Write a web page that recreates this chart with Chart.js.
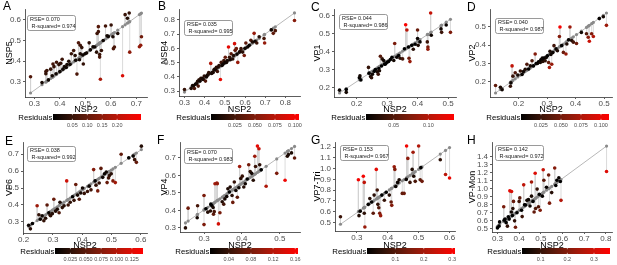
<!DOCTYPE html>
<html>
<head>
<meta charset="utf-8">
<script src="https://cdn.jsdelivr.net/npm/chart.js@4.4.1/dist/chart.umd.min.js"></script>
<style>
  body { margin: 0; background: #fff; width: 617px; height: 265px; overflow: hidden; position: relative;
         font-family: "Liberation Sans", Arial, sans-serif; }
  .panel { position: absolute; }
  .tag { position: absolute; font-size: 12px; line-height: 12px; color: #000; }
</style>
</head>
<body>
<script>
// ---- data (x = NSP2, y = other segment) ----
const nsp2A = [0.285,0.33,0.345,0.345,0.349,0.355,0.364,0.37,0.373,0.377,0.385,0.387,0.396,0.4,0.403,0.409,0.412,0.418,0.425,0.428,0.435,0.44,0.445,0.454,0.46,0.462,0.467,0.473,0.477,0.48,0.48,0.486,0.49,0.492,0.499,0.505,0.515,0.52,0.53,0.537,0.544,0.546,0.551,0.551,0.556,0.556,0.559,0.563,0.57,0.579,0.585,0.59,0.601,0.608,0.61,0.614,0.627,0.646,0.656,0.665,0.672,0.674,0.712,0.717,0.72];
const nsp5A = [0.325,0.297,0.35,0.34,0.355,0.31,0.362,0.33,0.387,0.374,0.34,0.395,0.384,0.35,0.39,0.41,0.362,0.374,0.37,0.384,0.4,0.385,0.436,0.452,0.428,0.405,0.338,0.489,0.407,0.477,0.436,0.466,0.43,0.387,0.436,0.44,0.489,0.455,0.47,0.469,0.444,0.534,0.567,0.543,0.42,0.433,0.313,0.452,0.5,0.57,0.523,0.52,0.575,0.518,0.461,0.469,0.534,0.33,0.625,0.608,0.633,0.444,0.47,0.477,0.518];

const nsp2B = [0.3,0.333,0.34,0.344,0.349,0.355,0.36,0.365,0.368,0.372,0.377,0.381,0.388,0.393,0.398,0.404,0.409,0.412,0.417,0.42,0.43,0.434,0.438,0.442,0.446,0.45,0.455,0.458,0.463,0.467,0.471,0.478,0.482,0.486,0.491,0.495,0.5,0.502,0.508,0.512,0.518,0.523,0.527,0.531,0.539,0.543,0.548,0.551,0.557,0.56,0.564,0.572,0.576,0.58,0.588,0.596,0.6,0.604,0.613,0.621,0.629,0.637,0.645,0.65,0.658,0.67,0.694,0.697,0.73,0.74,0.75,0.845];
const nsp4B = [0.312,0.319,0.34,0.336,0.319,0.35,0.352,0.37,0.336,0.38,0.371,0.39,0.39,0.383,0.407,0.371,0.4,0.41,0.419,0.43,0.495,0.424,0.43,0.431,0.45,0.455,0.45,0.467,0.438,0.47,0.479,0.382,0.502,0.48,0.49,0.514,0.5,0.538,0.502,0.515,0.61,0.538,0.52,0.562,0.526,0.55,0.633,0.586,0.598,0.56,0.502,0.574,0.58,0.598,0.574,0.55,0.6,0.638,0.61,0.621,0.657,0.645,0.705,0.65,0.638,0.681,0.669,0.638,0.729,0.705,0.724,0.795];

const nsp2C = [0.144,0.166,0.166,0.209,0.211,0.214,0.239,0.241,0.246,0.249,0.252,0.258,0.262,0.268,0.271,0.273,0.275,0.278,0.282,0.284,0.289,0.292,0.295,0.3,0.305,0.311,0.316,0.322,0.325,0.332,0.338,0.343,0.351,0.357,0.361,0.365,0.37,0.372,0.375,0.381,0.386,0.392,0.4,0.4,0.402,0.408,0.432,0.434,0.434,0.443,0.445,0.477,0.479,0.494,0.508];
const vp1C  = [0.186,0.189,0.174,0.255,0.265,0.242,0.312,0.28,0.261,0.255,0.274,0.29,0.3,0.287,0.274,0.306,0.293,0.374,0.32,0.359,0.35,0.33,0.331,0.34,0.345,0.355,0.368,0.35,0.444,0.368,0.378,0.363,0.359,0.415,0.548,0.519,0.425,0.363,0.344,0.434,0.412,0.44,0.519,0.472,0.434,0.453,0.453,0.425,0.412,0.613,0.49,0.525,0.506,0.547,0.506];

const nsp2D = [0.119,0.136,0.142,0.171,0.173,0.177,0.18,0.188,0.197,0.206,0.212,0.217,0.223,0.229,0.235,0.241,0.247,0.252,0.258,0.262,0.266,0.27,0.276,0.278,0.281,0.283,0.285,0.287,0.29,0.293,0.297,0.301,0.305,0.308,0.31,0.313,0.316,0.32,0.324,0.331,0.336,0.343,0.345,0.351,0.357,0.366,0.369,0.375,0.38,0.386,0.392,0.403,0.42,0.438,0.444,0.448,0.456,0.462,0.483,0.497,0.508];
const vp2D  = [0.18,0.17,0.157,0.176,0.194,0.287,0.231,0.25,0.237,0.259,0.24,0.256,0.269,0.296,0.27,0.287,0.315,0.287,0.352,0.3,0.3,0.31,0.306,0.32,0.319,0.33,0.311,0.324,0.33,0.315,0.333,0.343,0.306,0.278,0.367,0.35,0.296,0.36,0.398,0.38,0.37,0.448,0.5,0.398,0.361,0.352,0.407,0.43,0.5,0.426,0.417,0.41,0.47,0.463,0.444,0.422,0.463,0.448,0.546,0.556,0.509];

const nsp2E = [0.217,0.223,0.23,0.246,0.252,0.257,0.263,0.269,0.275,0.28,0.286,0.29,0.292,0.298,0.303,0.309,0.315,0.321,0.324,0.332,0.338,0.347,0.352,0.359,0.367,0.372,0.378,0.384,0.39,0.395,0.401,0.407,0.418,0.424,0.43,0.439,0.444,0.447,0.453,0.458,0.464,0.47,0.476,0.482,0.485,0.49,0.493,0.499,0.505,0.513,0.533,0.559,0.574,0.579,0.585,0.602];
const vp6E  = [0.279,0.258,0.29,0.395,0.342,0.315,0.336,0.306,0.321,0.399,0.353,0.34,0.336,0.348,0.433,0.363,0.374,0.353,0.416,0.384,0.395,0.542,0.399,0.416,0.448,0.427,0.521,0.458,0.433,0.47,0.5,0.468,0.479,0.511,0.489,0.609,0.542,0.517,0.483,0.53,0.616,0.563,0.584,0.595,0.532,0.56,0.574,0.584,0.542,0.532,0.7,0.679,0.689,0.668,0.652,0.748];

const nsp2F = [0.251,0.258,0.282,0.283,0.3,0.3,0.305,0.31,0.317,0.318,0.321,0.324,0.325,0.327,0.329,0.334,0.335,0.338,0.342,0.348,0.352,0.355,0.36,0.363,0.367,0.369,0.374,0.376,0.38,0.384,0.388,0.392,0.394,0.397,0.401,0.405,0.409,0.414,0.418,0.422,0.426,0.43,0.434,0.436,0.441,0.445,0.447,0.451,0.464,0.492,0.514,0.52,0.523,0.531,0.539];
const vp4F  = [0.3,0.413,0.358,0.427,0.485,0.319,0.41,0.39,0.397,0.436,0.427,0.417,0.378,0.393,0.553,0.557,0.553,0.323,0.387,0.45,0.436,0.466,0.48,0.524,0.505,0.534,0.485,0.446,0.563,0.514,0.475,0.53,0.651,0.583,0.596,0.534,0.553,0.58,0.661,0.622,0.612,0.573,0.71,0.651,0.768,0.753,0.661,0.632,0.538,0.612,0.573,0.71,0.72,0.729,0.7];

const nsp2G = [0.247,0.305,0.307,0.311,0.321,0.324,0.324,0.326,0.337,0.342,0.348,0.353,0.356,0.363,0.366,0.368,0.371,0.374,0.377,0.381,0.389,0.395,0.405,0.411,0.413,0.421,0.423,0.426,0.432,0.437,0.447,0.453,0.46,0.461,0.465,0.472,0.479,0.482,0.484,0.489,0.5,0.505,0.507,0.511,0.57,0.587,0.6];
const vp7G  = [0.553,0.897,0.563,0.604,0.929,0.872,0.585,0.458,0.668,0.722,0.69,0.585,0.754,0.993,0.802,0.668,0.636,0.585,0.563,0.754,0.706,0.78,0.754,0.69,0.659,1.018,0.993,0.834,0.872,0.897,0.77,0.77,0.9,1.21,1.095,0.872,0.993,1.152,0.929,0.882,1.21,0.897,1.009,0.882,1.082,0.945,0.913];

const nsp2H = [0.3,0.307,0.31,0.329,0.331,0.335,0.34,0.346,0.35,0.354,0.357,0.364,0.365,0.369,0.371,0.374,0.379,0.383,0.39,0.4,0.403,0.411,0.414,0.421,0.425,0.429,0.436,0.443,0.45,0.457,0.457,0.464,0.469,0.474,0.476,0.483,0.489,0.493,0.497,0.507,0.511,0.514,0.526,0.536,0.54,0.55,0.564,0.569,0.574,0.583,0.59,0.593,0.803];
const vpmH  = [0.51,0.532,0.585,0.774,0.607,0.62,0.576,0.532,0.65,0.62,0.973,0.708,0.965,0.664,0.752,0.841,0.598,0.519,0.7,0.841,0.885,0.73,0.651,1.048,0.8,0.796,0.854,0.863,0.783,1.083,0.907,0.841,0.708,1.193,0.752,0.995,0.774,0.929,0.73,0.907,1.237,1.105,1.017,1.171,0.819,0.951,1.259,1.039,1.105,1.136,1.09,0.854,1.215];

// fitted line [slope, intercept] as drawn in each panel
const fitA = [0.887, -0.006];
const fitB = [1.015, -0.01];
const fitC = [1.12, 0.009];
const fitD = [1.125, 0.005];
const fitE = [1.18, 0.017];
const fitF = [1.52, -0.053];
const fitG = [2.02, -0.016];
const fitH = [1.99, -0.066];

// axis ticks
const xTicksA = [0.3,0.4,0.5,0.6,0.7],     yTicksA = [0.3,0.4,0.5,0.6];
const xTicksB = [0.3,0.4,0.5,0.6,0.7,0.8], yTicksB = [0.3,0.4,0.5,0.6,0.7,0.8];
const xTicksC = [0.2,0.3,0.4,0.5],         yTicksC = [0.2,0.3,0.4,0.5,0.6];
const xTicksD = [0.2,0.3,0.4,0.5],         yTicksD = [0.2,0.3,0.4,0.5];
const xTicksE = [0.2,0.3,0.4,0.5,0.6],     yTicksE = [0.3,0.4,0.5,0.6,0.7];
const xTicksF = [0.3,0.4,0.5],             yTicksF = [0.3,0.4,0.5,0.6,0.7];
const xTicksG = [0.3,0.4,0.5,0.6],         yTicksG = [0.5,0.6,0.7,0.8,0.9,1.0,1.1,1.2];
const xTicksH = [0.3,0.4,0.5,0.6,0.7,0.8], yTicksH = [0.5,0.6,0.7,0.8,0.9,1.0,1.1,1.2,1.3,1.4];

// residual colour bar: limits and labels
const cbRangeA = [-0.015, 0.28],  cbLabelsA = ['0.05','0.10','0.15','0.20'];
const cbRangeB = [-0.005, 0.105], cbLabelsB = ['0.025','0.050','0.075','0.100'];
const cbRangeC = [0.01, 0.137],   cbLabelsC = ['0.05','0.10'];
const cbRangeD = [0, 0.11],       cbLabelsD = ['0.025','0.050','0.075','0.100'];
const cbRangeE = [0, 0.143],      cbLabelsE = ['0.025','0.050','0.075','0.100','0.125'];
const cbRangeF = [0.006, 0.165],  cbLabelsF = ['0.04','0.08','0.12','0.16'];
const cbRangeG = [0, 0.31],       cbLabelsG = ['0.1','0.2','0.3'];
const cbRangeH = [0.03, 0.36],    cbLabelsH = ['0.1','0.2','0.3'];

const rseVals = ['0.070','0.035','0.044','0.040','0.038','0.070','0.153','0.142'];
const r2Vals  = ['0.974','0.995','0.986','0.987','0.992','0.983','0.967','0.972'];

const panels = [
  { tag: 'A', x: nsp2A, y: nsp5A, yName: 'NSP5',    fit: fitA, xt: xTicksA, yt: yTicksA, cb: cbRangeA, cbl: cbLabelsA },
  { tag: 'B', x: nsp2B, y: nsp4B, yName: 'NSP4',    fit: fitB, xt: xTicksB, yt: yTicksB, cb: cbRangeB, cbl: cbLabelsB },
  { tag: 'C', x: nsp2C, y: vp1C,  yName: 'VP1',     fit: fitC, xt: xTicksC, yt: yTicksC, cb: cbRangeC, cbl: cbLabelsC },
  { tag: 'D', x: nsp2D, y: vp2D,  yName: 'VP2',     fit: fitD, xt: xTicksD, yt: yTicksD, cb: cbRangeD, cbl: cbLabelsD },
  { tag: 'E', x: nsp2E, y: vp6E,  yName: 'VP6',     fit: fitE, xt: xTicksE, yt: yTicksE, cb: cbRangeE, cbl: cbLabelsE },
  { tag: 'F', x: nsp2F, y: vp4F,  yName: 'VP4',     fit: fitF, xt: xTicksF, yt: yTicksF, cb: cbRangeF, cbl: cbLabelsF },
  { tag: 'G', x: nsp2G, y: vp7G,  yName: 'VP7-Tri', fit: fitG, xt: xTicksG, yt: yTicksG, cb: cbRangeG, cbl: cbLabelsG },
  { tag: 'H', x: nsp2H, y: vpmH,  yName: 'VP-Mon',  fit: fitH, xt: xTicksH, yt: yTicksH, cb: cbRangeH, cbl: cbLabelsH }
];

// layout of each panel (px): position, size, plot area [l, r, t, b], label box, colour bar, y title x
const geom = [
  { left: 0,   top: 0,   w: 152, h: 133, ca: [25, 147, 9, 97],  box: [27, 15], cbx: 53, cby: 114, yt: 10, tag: [3, 0] },
  { left: 152, top: 0,   w: 153, h: 133, ca: [27, 148, 9, 96],  box: [32, 20], cbx: 59, cby: 114, yt: 12.5, tag: [6, 0] },
  { left: 305, top: 0,   w: 155, h: 133, ca: [29, 151, 9, 97],  box: [34, 14], cbx: 61, cby: 114, yt: 13, tag: [6, 1] },
  { left: 460, top: 0,   w: 157, h: 133, ca: [30, 152, 9, 97],  box: [35, 18], cbx: 61, cby: 114, yt: 13, tag: [7, 1] },
  { left: 0,   top: 133, w: 152, h: 132, ca: [23, 147, 9, 100], box: [27, 13], cbx: 55, cby: 115, yt: 10, tag: [5, 2] },
  { left: 152, top: 133, w: 153, h: 132, ca: [28, 148, 9, 99],  box: [32, 15], cbx: 58, cby: 115, yt: 12.5, tag: [5, 1] },
  { left: 305, top: 133, w: 155, h: 132, ca: [30, 150, 9, 98],  box: [35, 12], cbx: 62, cby: 115, yt: 12.5, tag: [6, 1] },
  { left: 460, top: 133, w: 157, h: 132, ca: [32, 152, 9, 99],  box: [35, 12], cbx: 62, cby: 115, yt: 13, tag: [7, 1] }
];

const FONT = '"Liberation Sans", Arial, sans-serif';
Chart.defaults.font.family = FONT;

// black -> red (close to ggplot's Lab gradient)
function resColor(t) {
  t = Math.max(0, Math.min(1, t));
  const r = Math.round(255 * t);
  const g = Math.round(110 * t * (1 - t));
  const b = Math.round(45 * t * (1 - t));
  return `rgb(${r},${g},${b})`;
}

const extras = {
  id: 'extras',
  afterDraw(chart, args, o) {
    const c = chart.ctx;
    c.save();
    // RSE / R-squared label
    const [bx, by] = o.box;
    c.fillStyle = '#fff';
    c.strokeStyle = '#808080';
    c.lineWidth = 0.8;
    c.beginPath();
    if (c.roundRect) c.roundRect(bx + 0.5, by + 0.5, 48, 15, 2); else c.rect(bx + 0.5, by + 0.5, 48, 15);
    c.fill();
    c.stroke();
    c.fillStyle = '#1a1a1a';
    c.font = '5.5px ' + FONT;
    c.textAlign = 'left';
    c.textBaseline = 'middle';
    c.fillText('RSE= ' + o.rse, bx + 3, by + 4.8);
    c.fillText('R-squared= ' + o.r2, bx + 4.5, by + 11.2);

    // colour bar
    const x0 = o.cbx, y0 = o.cby, w = 88, h = 6;
    const grad = c.createLinearGradient(x0, 0, x0 + w, 0);
    for (let i = 0; i <= 20; i++) grad.addColorStop(i / 20, resColor(i / 20));
    c.fillStyle = grad;
    c.fillRect(x0, y0, w, h);
    const [lo, hi] = o.range;
    c.strokeStyle = '#fff';
    c.lineWidth = 0.6;
    c.fillStyle = '#4d4d4d';
    c.font = '5.5px ' + FONT;
    c.textAlign = 'center';
    c.textBaseline = 'top';
    o.labels.forEach(lab => {
      const px = x0 + (parseFloat(lab) - lo) / (hi - lo) * w;
      c.beginPath();
      c.moveTo(px, y0); c.lineTo(px, y0 + 1.2);
      c.moveTo(px, y0 + h - 1.2); c.lineTo(px, y0 + h);
      c.stroke();
      c.fillText(lab, px, y0 + h + 2.5);
    });
    c.fillStyle = '#000';
    c.font = '7.8px ' + FONT;
    c.textAlign = 'right';
    c.textBaseline = 'middle';
    c.fillText('Residuals', x0 - 0.5, y0 + h / 2 + 0.5);
    c.restore();
  }
};

function expand(lo, hi) {
  const d = (hi - lo) * 0.05;
  return [lo - d, hi + d];
}

panels.forEach((p, i) => {
  const g = geom[i];
  const div = document.createElement('div');
  div.className = 'panel';
  div.style.left = g.left + 'px';
  div.style.top = g.top + 'px';
  div.style.width = g.w + 'px';
  div.style.height = g.h + 'px';
  const cv = document.createElement('canvas');
  cv.width = g.w;
  cv.height = g.h;
  div.appendChild(cv);
  const tag = document.createElement('div');
  tag.className = 'tag';
  tag.style.left = g.tag[0] + 'px';
  tag.style.top = g.tag[1] + 'px';
  tag.textContent = p.tag;
  div.appendChild(tag);
  document.body.appendChild(div);

  const [k, a] = p.fit;
  const n = Math.min(p.x.length, p.y.length);
  const obs = [], pred = [], segs = [], cols = [];
  for (let j = 0; j < n; j++) {
    const yh = k * p.x[j] + a;
    const r = Math.abs(p.y[j] - yh);
    obs.push({ x: p.x[j], y: p.y[j] });
    pred.push({ x: p.x[j], y: yh });
    segs.push({ x: p.x[j], y: p.y[j] }, { x: p.x[j], y: yh }, { x: p.x[j], y: null });
    cols.push(resColor((r - p.cb[0]) / (p.cb[1] - p.cb[0])));
  }
  const xmin = Math.min(...p.x.slice(0, n)), xmax = Math.max(...p.x.slice(0, n));
  const allY = obs.map(d => d.y).concat(pred.map(d => d.y));
  const xr = expand(xmin, xmax);
  const yr = expand(Math.min(...allY), Math.max(...allY));
  const line = [{ x: xmin, y: k * xmin + a }, { x: xmax, y: k * xmax + a }];

  const [l, r, t, b] = g.ca;
  const topRow = g.top === 0;
  const pb = topRow ? 20 : 15;
  const titlePad = topRow ? -2 : -1;

  new Chart(cv.getContext('2d'), {
    type: 'scatter',
    data: {
      datasets: [
        { data: obs, pointRadius: 1.8, pointBackgroundColor: cols, pointBorderWidth: 0, order: 1 },
        { data: pred, pointRadius: 1.6, pointBackgroundColor: '#8a8a8a', pointBorderWidth: 0, order: 2 },
        { data: line, showLine: true, borderColor: '#b8b8b8', borderWidth: 1, pointRadius: 0, order: 3 },
        { data: segs, showLine: true, spanGaps: false, borderColor: '#d2d2d2', borderWidth: 0.8, pointRadius: 0, order: 4 }
      ]
    },
    options: {
      responsive: false,
      animation: false,
      devicePixelRatio: 1,
      events: [],
      layout: { padding: { left: 0, right: g.w - r, top: t, bottom: pb } },
      plugins: {
        legend: { display: false },
        tooltip: { enabled: false },
        extras: { box: g.box, rse: rseVals[i], r2: r2Vals[i], cbx: g.cbx, cby: g.cby, range: p.cb, labels: p.cbl }
      },
      scales: {
        x: {
          type: 'linear',
          min: xr[0], max: xr[1],
          afterBuildTicks: s => { s.ticks = p.xt.map(v => ({ value: v })); },
          afterFit: s => { s.height = g.h - pb - b; },
          ticks: { color: '#4d4d4d', font: { size: 8 }, padding: 0, autoSkip: false, maxRotation: 0,
                   callback: v => v.toFixed(1) },
          grid: { drawOnChartArea: false, drawTicks: true, tickLength: 2, color: '#333', lineWidth: 0.8 },
          border: { display: true, color: '#333', width: 0.8 },
          title: { display: true, text: 'NSP2', color: '#000', font: { size: 9 }, padding: { top: 0, bottom: titlePad } }
        },
        y: {
          type: 'linear',
          min: yr[0], max: yr[1],
          afterBuildTicks: s => { s.ticks = p.yt.map(v => ({ value: v })); },
          afterFit: s => { s.width = l; },
          ticks: { color: '#4d4d4d', font: { size: 8 }, padding: 2, autoSkip: false,
                   callback: v => v.toFixed(1) },
          grid: { drawOnChartArea: false, drawTicks: true, tickLength: 2, color: '#333', lineWidth: 0.8 },
          border: { display: true, color: '#333', width: 0.8 },
          title: { display: true, text: p.yName, color: '#000', font: { size: 9 },
                   padding: { top: g.yt - 5.4, bottom: 0 } }
        }
      }
    },
    plugins: [extras]
  });
});
</script>
</body>
</html>
